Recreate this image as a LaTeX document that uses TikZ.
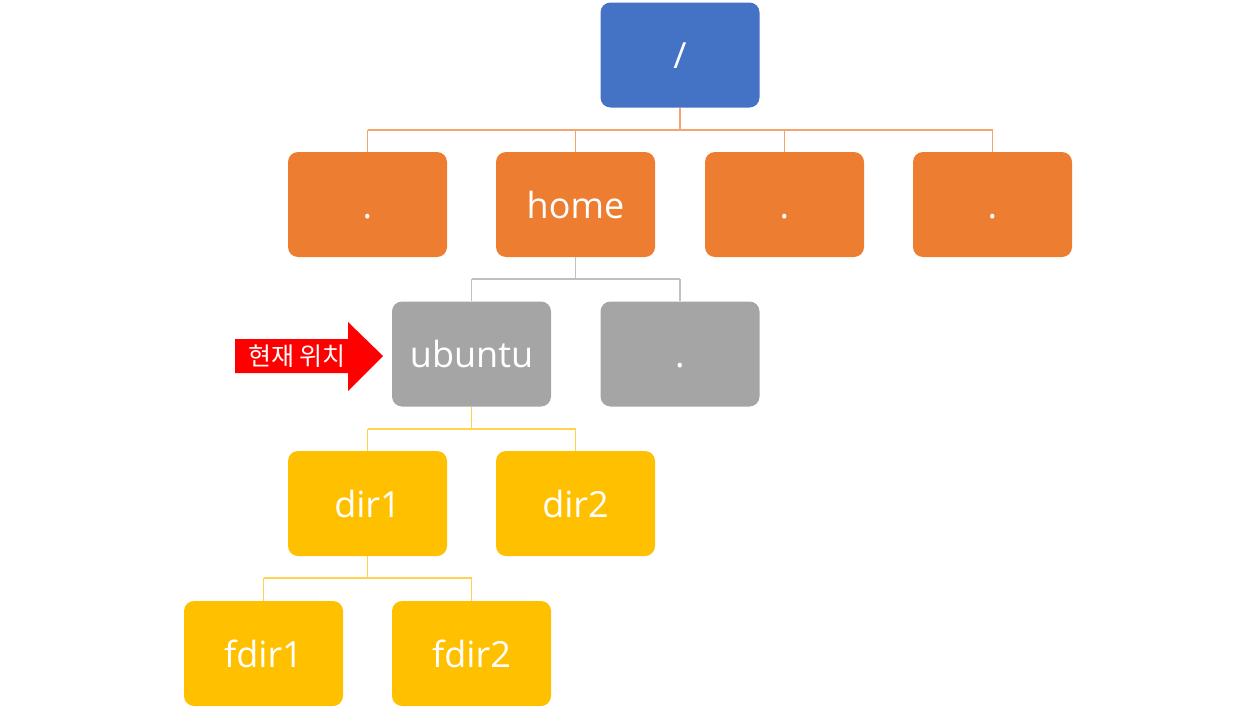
\documentclass[tikz,border=0pt]{standalone}
\usepackage{fontspec}
\setmainfont{Open Sans}
\newfontfamily\krfont{Noto Sans CJK KR}
\definecolor{cblue}{HTML}{4472C4}
\definecolor{corange}{HTML}{ED7D31}
\definecolor{cgrey}{HTML}{A5A5A5}
\definecolor{cyellow}{HTML}{FFC000}
\definecolor{lorange}{HTML}{F4A46E}
\definecolor{lgrey}{HTML}{C0C0C0}
\definecolor{lyellow}{HTML}{FFD24F}
\definecolor{cred}{HTML}{FF0000}
\begin{document}
\begin{tikzpicture}[x=1pt,y=-1pt,
  box/.style={rectangle,rounded corners=10pt,minimum width=159pt,minimum height=105pt,inner sep=0pt,text=white,font=\fontsize{36}{40}\selectfont,text height=34pt,text depth=7pt},
  bluebox/.style={box,fill=cblue},
  orbox/.style={box,fill=corange},
  grbox/.style={box,fill=cgrey},
  yebox/.style={box,fill=cyellow},
  oline/.style={draw=lorange,line width=1.4pt},
  gline/.style={draw=lgrey,line width=1.4pt},
  yline/.style={draw=lyellow,line width=1.4pt}]
\useasboundingbox (0,0) rectangle (1256,720);
% nodes
\node[bluebox] (root) at (680,55) {/};
\node[orbox] (d1) at (367.5,204.5) {.};
\node[orbox] (home) at (575.5,204.5) {home};
\node[orbox] (d2) at (784.5,204.5) {.};
\node[orbox] (d3) at (992.5,204.5) {.};
\node[grbox] (ubuntu) at (471.5,354) {ubuntu};
\node[grbox] (d4) at (680,354) {.};
\node[yebox] (dir1) at (367.5,503.5) {dir1};
\node[yebox] (dir2) at (575.5,503.5) {dir2};
\node[yebox] (fdir1) at (263.5,653.5) {fdir1};
\node[yebox] (fdir2) at (471.5,653.5) {fdir2};
% connectors
\coordinate (b1) at (680,130);
\draw[oline] (root.south) -- (root.south |- b1);
\draw[oline] (d1.north |- b1) -- (d3.north |- b1);
\foreach \n in {d1,home,d2,d3} \draw[oline] (\n.north |- b1) -- (\n.north);
\coordinate (b2) at (576,279);
\draw[gline] (home.south) -- (home.south |- b2);
\draw[gline] (ubuntu.north |- b2) -- (d4.north |- b2);
\foreach \n in {ubuntu,d4} \draw[gline] (\n.north |- b2) -- (\n.north);
\coordinate (b3) at (472,429);
\draw[yline] (ubuntu.south) -- (ubuntu.south |- b3);
\draw[yline] (dir1.north |- b3) -- (dir2.north |- b3);
\foreach \n in {dir1,dir2} \draw[yline] (\n.north |- b3) -- (\n.north);
\coordinate (b4) at (367,578);
\draw[yline] (dir1.south) -- (dir1.south |- b4);
\draw[yline] (fdir1.north |- b4) -- (fdir2.north |- b4);
\foreach \n in {fdir1,fdir2} \draw[yline] (\n.north |- b4) -- (\n.north);
% red arrow
\fill[cred] (235,339) -- (348,339) -- (348,322) -- (383,356) -- (348,391) -- (348,373) -- (235,373) -- cycle;
\node[text=white,font=\krfont\fontsize{25}{29}\selectfont,inner sep=0pt] (cur) at (297,356) {현재 위치};
\end{tikzpicture}
\end{document}
